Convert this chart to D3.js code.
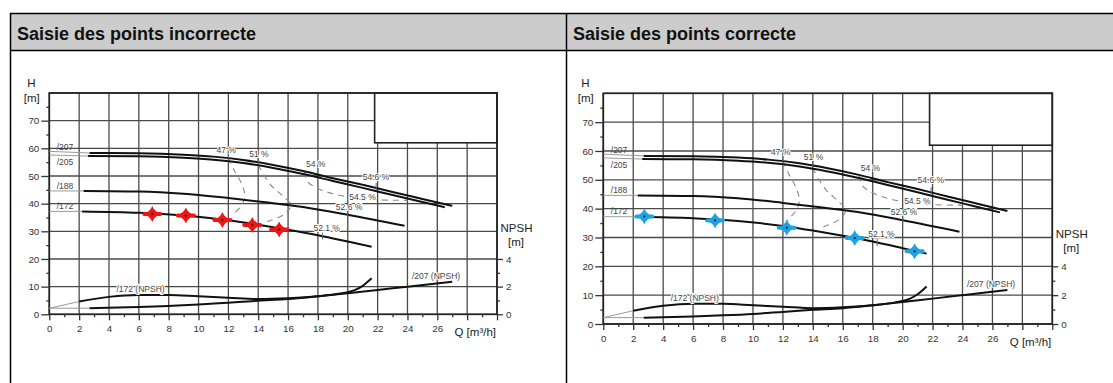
<!DOCTYPE html>
<html><head><meta charset="utf-8">
<script src="https://cdn.jsdelivr.net/npm/d3@7"></script>
<style>body{margin:0;background:#fff} svg{display:block;font-family:"Liberation Sans",Arial,sans-serif}</style>
</head><body><svg id="c" width="1113" height="383"></svg>
<script>
// ---------- data ----------
const panelTitles = ["Saisie des points incorrecte", "Saisie des points correcte"];
const qGrid = [0,2,4,6,8,10,12,14,16,18,20,22,24,26,28,30];
const qMinor = [1,3,5,7,9,11,13,15,17,19,21,23,25,27,29];
const qTickLabels = [0,2,4,6,8,10,12,14,16,18,20,22,24,26];
const hGrid = [0,10,20,30,40,50,60,70,80];
const hMinor = [5,15,25,35,45,55,65,75];
const hTickLabels = [0,10,20,30,40,50,60,70];
const npshMajor = [0,2,4];
const npshMinor = [1,3];

const curve207 = [[2.7,58.3],[6,58.2],[9,57.7],[11,57],[13,55.8],[15,54],[17,51.8],[19,49.2],[21,46.8],[23,44.2],[25,41.7],[27,39.2]];
const curve205 = [[2.6,57.2],[6,57.1],[9,56.6],[11,55.9],[13,54.7],[15,52.9],[17,50.7],[19,48.2],[21,45.7],[23,43.1],[25,40.6],[26.5,38.7]];
const curve188 = [[2.3,44.6],[6,44.4],[9,43.6],[12,42],[14.5,40.5],[17,38.8],[20,36],[23.8,32]];
const curve172 = [[2.2,37.2],[6,36.7],[9,35.7],[12,34],[14,32.4],[16,30.6],[18,28.6],[20,26.3],[21.6,24.4]];
const npsh172 = [[2,4.6],[4,6.3],[6,7],[8,7],[10,6.5],[12,6],[14,5.5],[16,5.8],[18,6.5],[19.5,7.5],[20.5,8.8],[21,10.3],[21.6,13]];
const npsh207 = [[2.7,2.2],[6,2.6],[8,3.0],[10,3.5],[12,4.2],[14,4.9],[16,5.5],[18,6.5],[20,7.6],[22,8.8],[24,10],[27,11.8]];

const eff47 = [[12,56.5],[12.4,52],[12.9,47],[13.1,43],[12.9,39.5],[12.2,35.5]];
const eff51 = [[14,54],[14.8,47],[15.7,42.5],[16.2,39.5],[15.7,36],[14.6,33.5]];
const eff54 = [[17.1,51.5],[17.3,48],[18,45.5],[19,43.6],[20.2,42.3],[22,41.4],[24,41.2]];
const effTicks = [[12,56.8],[14,55.3],[21.9,46.2],[20,36],[18.3,28.3]];

const curveLabels = [["/207",0.5,60.5],["/205",0.5,55.2],["/188",0.5,46.5],["/172",0.5,39.2]];
const leaders = [[[0,58.9],[2.7,58.3]],[[0,57.6],[2.6,57.2]],[[0,44.6],[2.3,44.6]],[[0,37.2],[2.2,37.2]],[[0,2.2],[2,4.6]],[[0,2.2],[2.7,2.2]]];
const effLabels = [["47 %",11.2,59.5],["51 %",13.4,57.9],["54 %",17.2,54.2],["54.6 %",21.0,49.8],["54.5 %",20.1,42.5],["52.6 %",19.2,38.9],["52.1 %",17.7,31.1]];
const npshLabels = [["/172 (NPSH)",4.5,9.1],["/207 (NPSH)",24.3,13.9]];
const blankBox = [[21.8,62],[30,80]];

const pointsIncorrect = [[6.9,36.3],[9.15,35.7],[11.6,34.1],[13.6,32.3],[15.4,30.7]];
const pointsCorrect = [[2.74,37.3],[7.47,35.9],[12.26,33.4],[16.8,29.8],[20.8,25.2]];

// ---------- layout ----------
const svg = d3.select("#c");
const W = 1113;
// header
svg.append("rect").attr("x",10).attr("y",13).attr("width",W).attr("height",37).attr("fill","#cccccc");
svg.append("line").attr("x1",10).attr("x2",W).attr("y1",13.5).attr("y2",13.5).attr("stroke","#000").attr("stroke-width",1.5);
svg.append("line").attr("x1",10).attr("x2",W).attr("y1",50.5).attr("y2",50.5).attr("stroke","#000").attr("stroke-width",1.5);
[10.5,566.5].forEach(x=>svg.append("line").attr("x1",x).attr("x2",x).attr("y1",13).attr("y2",383).attr("stroke","#000").attr("stroke-width",1.5));
[[17,panelTitles[0]],[573,panelTitles[1]]].forEach(([x,t])=>svg.append("text").attr("x",x).attr("y",39.5).attr("font-size",18).attr("font-weight","bold").attr("fill","#111").text(t));

const panels = [
  {x0:49.3, x1:497, yTop:93, yBot:314.3, pts:pointsIncorrect, color:"#f01515"},
  {x0:603.3, x1:1052.3, yTop:93.3, yBot:324, pts:pointsCorrect, color:"#1ea3e6"}
];

function drawPanel(p){
  const x = d3.scaleLinear().domain([0,30]).range([p.x0,p.x1]);
  const y = d3.scaleLinear().domain([0,80]).range([p.yBot,p.yTop]);
  const yN = d3.scaleLinear().domain([0,16]).range([p.yBot,p.yTop]);
  const g = svg.append("g");
  // grid
  g.selectAll(".vg").data(qGrid).join("line").attr("x1",d=>x(d)).attr("x2",d=>x(d)).attr("y1",p.yTop).attr("y2",p.yBot).attr("stroke","#4a4a4a").attr("stroke-width",1.3);
  g.selectAll(".hg").data(hGrid).join("line").attr("x1",p.x0).attr("x2",p.x1).attr("y1",d=>y(d)).attr("y2",d=>y(d)).attr("stroke","#4a4a4a").attr("stroke-width",1.3);
  // blank box
  g.append("rect").attr("x",x(blankBox[0][0])).attr("y",y(blankBox[1][1])).attr("width",x(blankBox[1][0])-x(blankBox[0][0])).attr("height",y(blankBox[0][1])-y(blankBox[1][1])).attr("fill","#fff").attr("stroke","#222").attr("stroke-width",1.6);
  // frame
  g.append("rect").attr("x",p.x0).attr("y",p.yTop).attr("width",p.x1-p.x0).attr("height",p.yBot-p.yTop).attr("fill","none").attr("stroke","#222").attr("stroke-width",1.7);
  // axes
  const axL = g.append("g").attr("transform",`translate(${p.x0},0)`).call(d3.axisLeft(y).tickValues(hTickLabels).tickSize(8).tickPadding(2).tickFormat(d3.format("d")));
  const axLm = g.append("g").attr("transform",`translate(${p.x0},0)`).call(d3.axisLeft(y).tickValues(hMinor).tickSize(3).tickFormat(""));
  const axB = g.append("g").attr("transform",`translate(0,${p.yBot})`).call(d3.axisBottom(x).tickValues(qGrid).tickSize(6).tickPadding(5).tickFormat(d=>qTickLabels.includes(d)?d:""));
  const axBm = g.append("g").attr("transform",`translate(0,${p.yBot})`).call(d3.axisBottom(x).tickValues(qMinor).tickSize(3).tickFormat(""));
  const axR = g.append("g").attr("transform",`translate(${p.x1},0)`).call(d3.axisRight(yN).tickValues(npshMajor).tickSize(6).tickPadding(3).tickFormat(d3.format("d")));
  const axRm = g.append("g").attr("transform",`translate(${p.x1},0)`).call(d3.axisRight(yN).tickValues(npshMinor).tickSize(3).tickFormat(""));
  [axL,axLm,axB,axBm,axR,axRm].forEach(a=>{
    a.select(".domain").remove();
    a.selectAll("line").attr("stroke","#333").attr("stroke-width",1.3);
    a.selectAll("text").attr("font-size",9.8).attr("fill","#333").attr("font-family","Liberation Sans, Arial, sans-serif");
  });
  // axis titles
  const tt = (t,xx,yy,anchor,fs)=>g.append("text").attr("x",xx).attr("y",yy).attr("text-anchor",anchor).attr("dominant-baseline","central").attr("font-size",fs).attr("fill","#222").text(t);
  tt("H",p.x0-18,p.yTop-10.5,"middle",11.5);
  tt("[m]",p.x0-17.5,p.yTop+4.5,"middle",11.5);
  tt("NPSH",p.x1+3.5,y(31.3),"start",11.5);
  tt("[m]",p.x1+19,y(31.3)+14.5,"middle",11.5);
  tt("Q [m³/h]",p.x1-1,p.yBot+17.5,"end",11.5);

  // leaders
  const lineGen = d3.line().x(d=>x(d[0])).y(d=>y(d[1]));
  leaders.forEach(l=>g.append("path").attr("d",lineGen(l)).attr("fill","none").attr("stroke","#9a9a9a").attr("stroke-width",1));
  // efficiency iso lines
  const effGen = d3.line().x(d=>x(d[0])).y(d=>y(d[1])).curve(d3.curveCatmullRom);
  [eff47,eff51,eff54].forEach(c=>g.append("path").attr("d",effGen(c)).attr("fill","none").attr("stroke","#8a8a8a").attr("stroke-width",1.1).attr("stroke-dasharray","6,5"));
  // curves
  const cGen = d3.line().x(d=>x(d[0])).y(d=>y(d[1])).curve(d3.curveMonotoneX);
  [curve207,curve205,curve188,curve172,npsh172,npsh207].forEach(c=>g.append("path").attr("d",cGen(c)).attr("fill","none").attr("stroke","#111").attr("stroke-width",2));
  // eff ticks
  effTicks.forEach(([q,h])=>g.append("line").attr("x1",x(q)).attr("x2",x(q)).attr("y1",y(h)-3.5).attr("y2",y(h)+3.5).attr("stroke","#666").attr("stroke-width",1));
  // labels
  curveLabels.forEach(([t,q,h])=>g.append("text").attr("x",x(q)).attr("y",y(h)).attr("dominant-baseline","central").attr("font-size",8.5).attr("fill","#444").text(t));
  effLabels.concat(npshLabels).forEach(([t,q,h])=>g.append("text").attr("x",x(q)).attr("y",y(h)).attr("dominant-baseline","central").attr("font-size",8.5).attr("fill","#444")
     .attr("stroke","#fff").attr("stroke-width",2).attr("paint-order","stroke").text(t));
  // markers
  const star = "M-9,0 Q-2.2,-2.2 0,-8 Q2.2,-2.2 9,0 Q2.2,2.2 0,8 Q-2.2,2.2 -9,0 Z";
  const mk = g.selectAll(".mk").data(p.pts).join("g").attr("transform",d=>`translate(${x(d[0])},${y(d[1])})`);
  mk.append("path").attr("d",star).attr("fill",p.color);
  mk.append("line").attr("x1",-8).attr("x2",8).attr("y1",0).attr("y2",0).attr("stroke",p.color).attr("stroke-width",4).attr("stroke-linecap","round");
  mk.append("circle").attr("r",3.4).attr("fill",p.color);
  mk.append("circle").attr("r",1.1).attr("fill","#222");
}
panels.forEach(drawPanel);
</script></body></html>
